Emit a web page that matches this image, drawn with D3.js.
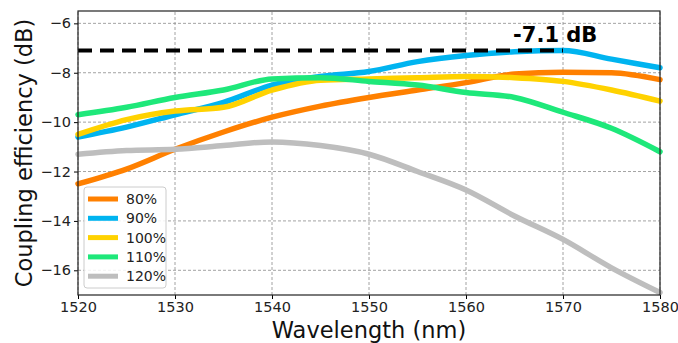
<!DOCTYPE html>
<html lang="en">
<head>
    <meta charset="UTF-8">
    <title>Coupling efficiency vs wavelength</title>
    <style>
        body { margin: 0; background: #fff; }
        svg { display: block; font-family: "DejaVu Sans", sans-serif; }
    </style>
</head>
<body>
    <div id="chart"></div>
    <script src="https://d3js.org/d3.v7.min.js"></script>
    <script>
        // Data
        const wavelengths = [1520, 1525, 1530, 1535, 1540, 1545, 1550, 1555, 1560, 1565, 1570, 1575, 1580];
        const s80  = [-12.5, -11.9, -11.1, -10.4, -9.8, -9.35, -9.0, -8.7, -8.4, -8.05, -7.98, -8.0, -8.28];
        const s90  = [-10.6, -10.2, -9.7, -9.2, -8.5, -8.15, -7.95, -7.55, -7.3, -7.15, -7.1, -7.45, -7.8];
        const s100 = [-10.5, -9.9, -9.55, -9.4, -8.7, -8.3, -8.25, -8.2, -8.15, -8.2, -8.35, -8.7, -9.15];
        const s110 = [-9.7, -9.4, -9.0, -8.7, -8.25, -8.2, -8.35, -8.5, -8.8, -9.0, -9.6, -10.25, -11.2];
        const s120 = [-11.3, -11.15, -11.1, -10.95, -10.8, -10.95, -11.3, -12.0, -12.75, -13.8, -14.75, -15.9, -16.9];
        const seriesNames = ["80%", "90%", "100%", "110%", "120%"];
        const seriesColors = ["#ff8000", "#00b4f0", "#ffd200", "#1ee87a", "#bebebe"];
        const xTicks = [1520, 1530, 1540, 1550, 1560, 1570, 1580];
        const yTicks = [-16, -14, -12, -10, -8, -6];
        const maxLevel = -7.1;

        const width = 678, height = 343;
        const margin = { top: 11, right: 18, bottom: 48, left: 78 };

        const svg = d3.select("#chart").append("svg")
            .attr("width", width)
            .attr("height", height);

        const x = d3.scaleLinear().domain([1520, 1580]).range([margin.left, width - margin.right]);
        const y = d3.scaleLinear().domain([-17, -5.5]).range([height - margin.bottom, margin.top]);

        // grid
        const grid = svg.append("g").attr("stroke", "#8c8c8c").attr("stroke-width", 0.8).attr("stroke-dasharray", "3,2");
        grid.selectAll(".gx").data(xTicks).enter().append("line")
            .attr("x1", d => x(d)).attr("x2", d => x(d))
            .attr("y1", y.range()[0]).attr("y2", y.range()[1]);
        grid.selectAll(".gy").data(yTicks).enter().append("line")
            .attr("x1", x.range()[0]).attr("x2", x.range()[1])
            .attr("y1", d => y(d)).attr("y2", d => y(d));

        // series
        const allSeries = [s80, s90, s100, s110, s120];
        const line = d3.line()
            .x((d, i) => x(wavelengths[i]))
            .y(d => y(d))
            .curve(d3.curveMonotoneX);

        svg.append("g").selectAll("path")
            .data(allSeries)
            .enter().append("path")
            .attr("d", line)
            .attr("fill", "none")
            .attr("stroke", (d, i) => seriesColors[i])
            .attr("stroke-width", 5.5)
            .attr("stroke-linecap", "round");

        // max level dashed line
        svg.append("line")
            .attr("x1", x(1520)).attr("x2", x(1570))
            .attr("y1", y(maxLevel)).attr("y2", y(maxLevel))
            .attr("stroke", "#000")
            .attr("stroke-width", 4)
            .attr("stroke-dasharray", "14,8");
        svg.append("text")
            .attr("x", x(1569.2)).attr("y", y(maxLevel) - 9)
            .attr("text-anchor", "middle")
            .attr("font-size", 21)
            .attr("font-weight", "bold")
            .text("-7.1 dB");

        // axes
        const xAxis = svg.append("g")
            .attr("transform", `translate(0,${height - margin.bottom})`)
            .call(d3.axisBottom(x).tickValues(xTicks).tickSize(4).tickFormat(d3.format("d")));
        const yAxis = svg.append("g")
            .attr("transform", `translate(${margin.left},0)`)
            .call(d3.axisLeft(y).tickValues(yTicks).tickSize(4).tickFormat(d => "\u2212" + Math.abs(d)));
        [xAxis, yAxis].forEach(a => {
            a.selectAll("text").attr("font-size", 14.5).attr("fill", "#222").attr("font-family", "DejaVu Sans");
            a.select(".domain").remove();
        });

        // frame
        svg.append("rect")
            .attr("x", x.range()[0]).attr("y", y.range()[1])
            .attr("width", x.range()[1] - x.range()[0])
            .attr("height", y.range()[0] - y.range()[1])
            .attr("fill", "none").attr("stroke", "#222").attr("stroke-width", 1.2);

        // axis titles
        svg.append("text")
            .attr("x", (x.range()[0] + x.range()[1]) / 2).attr("y", 338)
            .attr("text-anchor", "middle").attr("font-size", 22.5).attr("fill", "#111")
            .text("Wavelength (nm)");
        svg.append("text")
            .attr("transform", `translate(32,${(y.range()[0] + y.range()[1]) / 2}) rotate(-90)`)
            .attr("text-anchor", "middle").attr("font-size", 22.5).attr("fill", "#111")
            .text("Coupling efficiency (dB)");

        // legend
        const legend = svg.append("g").attr("transform", "translate(84,187)");
        legend.append("rect")
            .attr("width", 82).attr("height", 101).attr("rx", 3)
            .attr("fill", "#fff").attr("fill-opacity", 0.85)
            .attr("stroke", "#ccc");
        seriesNames.forEach((name, i) => {
            const row = legend.append("g").attr("transform", `translate(0,${12 + i * 19.3})`);
            row.append("line").attr("x1", 4).attr("x2", 34)
                .attr("stroke", seriesColors[i]).attr("stroke-width", 5);
            row.append("text").attr("x", 42).attr("y", 5)
                .attr("font-size", 14).attr("fill", "#222").text(name);
        });
    </script>
</body>
</html>
